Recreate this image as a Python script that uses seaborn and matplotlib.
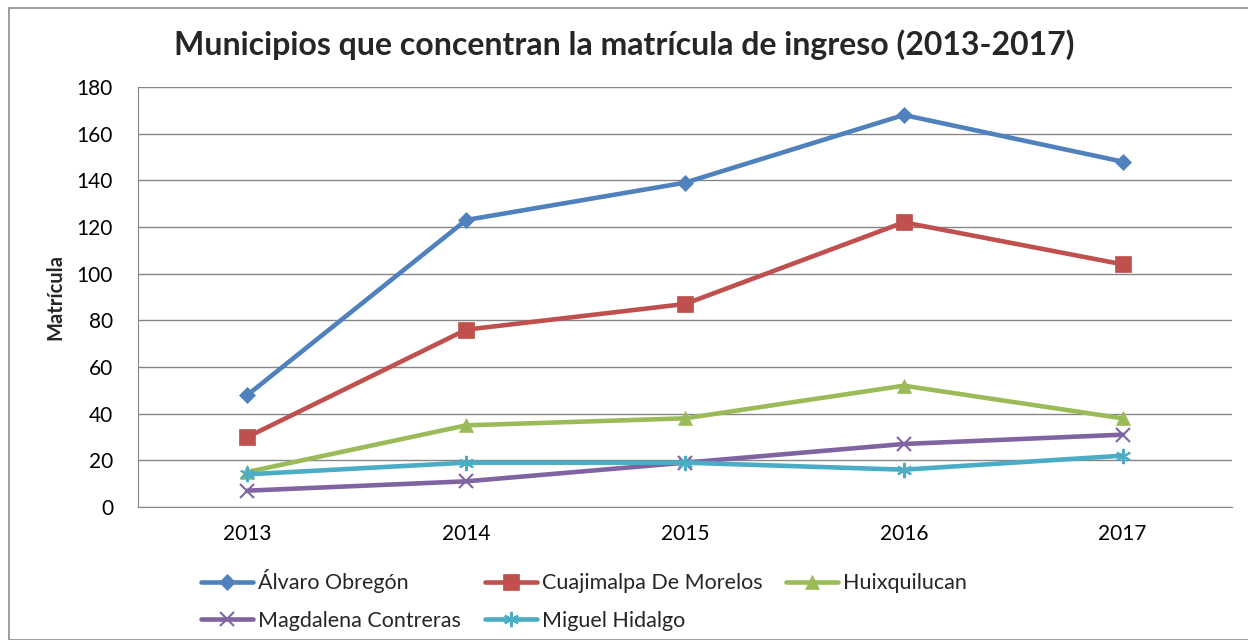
import pandas as pd
import matplotlib
matplotlib.use("Agg")
import matplotlib.pyplot as plt
import seaborn as sns
from matplotlib.patches import Rectangle

sns.set_style("white")
plt.rcParams["font.family"] = ["Lato", "DejaVu Sans"]

YEARS = ["2013", "2014", "2015", "2016", "2017"]
SERIES = ["Álvaro Obregón", "Cuajimalpa De Morelos", "Huixquilucan",
          "Magdalena Contreras", "Miguel Hidalgo"]
ALVARO = [48, 123, 139, 168, 148]
CUAJIMALPA = [30, 76, 87, 122, 104]
HUIXQUILUCAN = [15, 35, 38, 52, 38]
MAGDALENA = [7, 11, 19, 27, 31]
MIGUEL = [14, 19, 19, 16, 22]

COLORS = ["#4F81BD", "#C0504D", "#9BBB59", "#8064A2", "#4BACC6"]
MARKERS = ["D", "s", "^", "x", (6, 2, 0)]
SIZES = [8, 11, 10, 10, 11]

df = pd.DataFrame({"Año": YEARS * 5,
                   "Municipio": [s for s in SERIES for _ in YEARS],
                   "Matrícula": ALVARO + CUAJIMALPA + HUIXQUILUCAN + MAGDALENA + MIGUEL})

fig = plt.figure(figsize=(12.48, 6.4), dpi=100)
ax = fig.add_axes([138 / 1248, 1 - 507 / 640, 1094 / 1248, 420 / 640])

# chart frame like the spreadsheet export
fig.patches.append(Rectangle((9 / 1248, 0), 1.2, 1 - 8 / 640, transform=fig.transFigure,
                             fill=False, edgecolor="#8c8c8c", lw=1.2))

for i, name in enumerate(SERIES):
    sub = df[df["Municipio"] == name]
    sns.lineplot(data=sub, x="Año", y="Matrícula", ax=ax, color=COLORS[i], lw=3.3,
                 marker=MARKERS[i], markersize=SIZES[i], markeredgecolor=COLORS[i],
                 markeredgewidth=1.5 if i >= 3 else 0.5, label=name, sort=False)

ax.set_xlim(-0.5, 4.5)
ax.set_ylim(0, 180)
ax.set_yticks(range(0, 181, 20))
ax.yaxis.grid(True, color="#868686", lw=1)
ax.xaxis.grid(False)
for side in ["top", "right"]:
    ax.spines[side].set_visible(False)
ax.spines["left"].set_color("#868686")
ax.spines["bottom"].set_color("#868686")
ax.tick_params(axis="both", labelsize=15, colors="black", length=0)
ax.tick_params(axis="y", pad=18)
ax.tick_params(axis="x", pad=12)
ax.set_xlabel("")
ax.set_ylabel("Matrícula", fontsize=14.5, fontweight="bold", labelpad=8)

fig.text(0.5, 1 - 45 / 640, "Municipios que concentran la matrícula de ingreso (2013-2017)",
         ha="center", va="center", fontsize=23, fontweight="bold")

handles, labels = ax.get_legend_handles_labels()
order = [0, 3, 1, 4, 2]
ax.legend([handles[k] for k in order], [labels[k] for k in order], ncol=3,
          loc="upper left", bbox_to_anchor=(182 / 1248, 1 - 550 / 640),
          bbox_transform=fig.transFigure, frameon=False, fontsize=15.5,
          handlelength=2.4, handletextpad=0.25, columnspacing=1.1, labelspacing=0.8)

fig.savefig("out.png", dpi=100)
